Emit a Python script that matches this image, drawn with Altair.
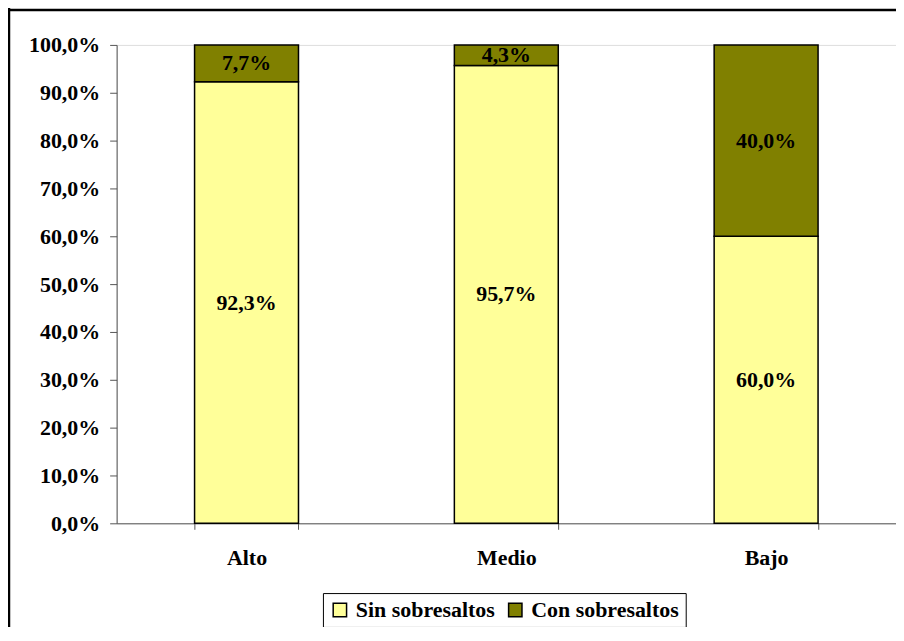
import altair as alt
import pandas as pd

categories = ["Alto", "Medio", "Bajo"]
series = ["Sin sobresaltos", "Con sobresaltos"]
sin_vals = [92.3, 95.7, 60.0]
con_vals = [7.7, 4.3, 40.0]
colors = ["#FFFF99", "#808000"]

rows = []
for c, s, k in zip(categories, sin_vals, con_vals):
    rows.append({"cat": c, "serie": series[0], "o": 0,
                 "y0": 0, "y1": s / 100, "lab": f"{s:.1f}%".replace(".", ",")})
    rows.append({"cat": c, "serie": series[1], "o": 1,
                 "y0": s / 100, "y1": (s + k) / 100, "lab": f"{k:.1f}%".replace(".", ",")})
df = pd.DataFrame(rows)
df["mid"] = (df["y0"] + df["y1"]) / 2

FONT = "Liberation Serif"
FS = 22

x_enc = alt.X("cat:N", sort=categories, title=None,
              scale=alt.Scale(paddingInner=0.6, paddingOuter=0.3),
              axis=alt.Axis(labelAngle=0, labelFont=FONT, labelFontWeight="bold",
                            labelFontSize=FS, labelColor="black", labelPadding=18,
                            tickBand="extent", tickSize=6, tickColor="#555",
                            domainColor="#555", grid=False))

bars = alt.Chart(df).mark_bar(stroke="black", strokeWidth=1.5).encode(
    x=x_enc,
    y=alt.Y("y0:Q", title=None,
            scale=alt.Scale(domain=[0, 1], nice=False),
            axis=alt.Axis(values=[i / 10 for i in range(11)],
                          labelExpr="replace(format(datum.value, '.1%'), '.', ',')",
                          labelFont=FONT, labelFontWeight="bold", labelFontSize=FS,
                          labelColor="black", labelPadding=10, tickSize=7,
                          tickColor="#555", domainColor="#555", grid=False)),
    y2="y1:Q",
    color=alt.Color("serie:N", sort=series,
                    scale=alt.Scale(domain=series, range=colors),
                    legend=alt.Legend(title=None, orient="none", legendX=207, legendY=550,
                                      direction="horizontal", columns=2,
                                      symbolType="square", symbolSize=180,
                                      symbolStrokeColor="black", symbolStrokeWidth=1.5,
                                      labelFont=FONT, labelFontWeight="bold",
                                      labelFontSize=FS, labelColor="black",
                                      labelOffset=5, labelLimit=300,
                                      strokeColor="black", padding=6,
                                      columnPadding=9, symbolOpacity=1)),
    order=alt.Order("o:Q"),
)

text = alt.Chart(df).mark_text(font=FONT, fontWeight="bold", fontSize=FS,
                               color="black", baseline="middle").encode(
    x=alt.X("cat:N", sort=categories),
    y=alt.Y("mid:Q"),
    text="lab:N",
)

one = pd.DataFrame({"a": [0]})
top_line = alt.Chart(one).mark_rule(color="black", strokeWidth=2.5).encode(
    x=alt.value(-109), x2=alt.value(800), y=alt.value(-35))
left_line = alt.Chart(one).mark_rule(color="black", strokeWidth=2.5).encode(
    x=alt.value(-108), y=alt.value(-37), y2=alt.value(600))

chart = alt.layer(top_line, left_line, bars, text).properties(
    width=782, height=480,
    autosize=alt.AutoSizeParams(type="none"),
    padding={"left": 109, "top": 36, "right": 0, "bottom": 103},
).configure_view(stroke=None).configure(background="white")

chart.save("out.html", embed_options={"renderer": "svg", "actions": False})
